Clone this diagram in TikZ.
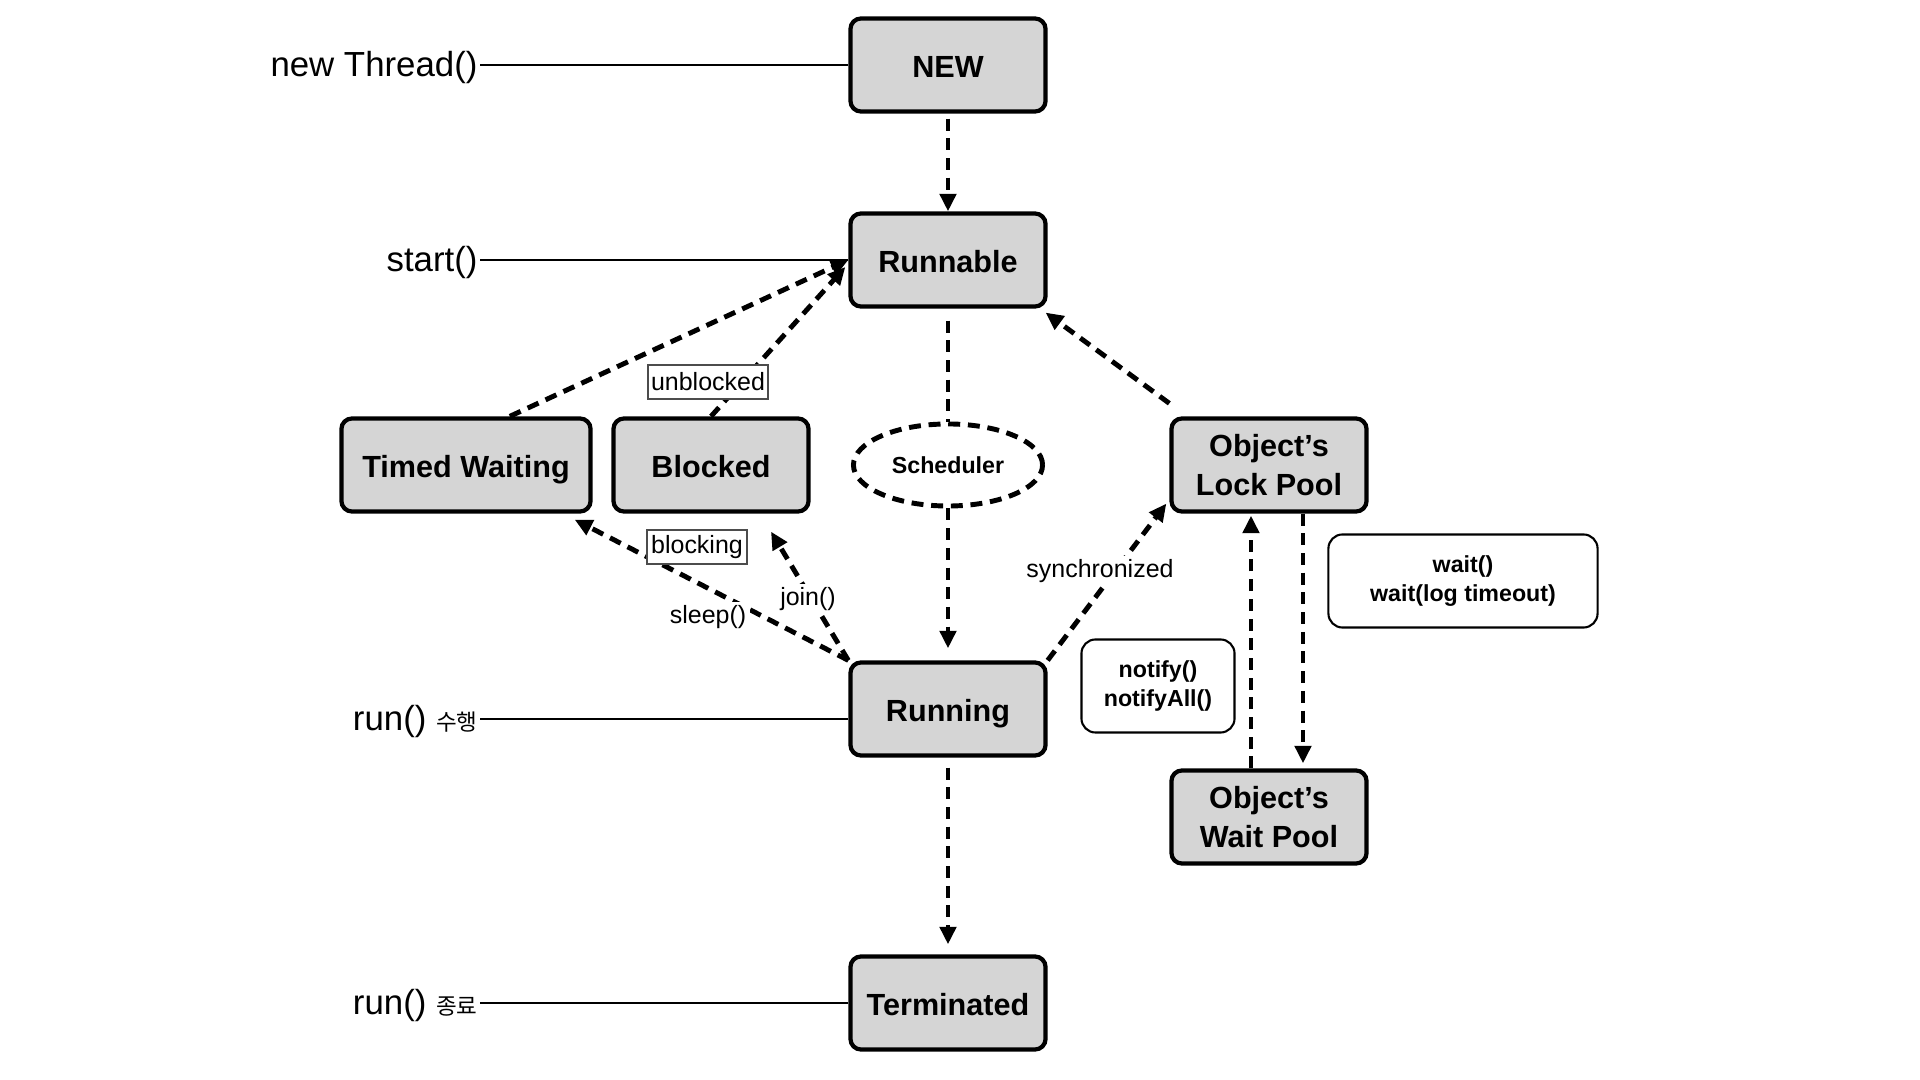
\documentclass[tikz,border=0pt]{standalone}
\usepackage{fontspec}
\setmainfont{Liberation Sans}
\newfontfamily\krfont{Noto Sans CJK KR}
\usetikzlibrary{arrows.meta,shapes.geometric,calc}
\definecolor{stategray}{HTML}{D5D5D5}

\begin{document}
\begin{tikzpicture}[x=0.01cm,y=-0.01cm,
  state/.style={draw,line width=1.2pt,rounded corners=3pt,fill=stategray,
    minimum width=1.95cm,minimum height=0.93cm,align=center,inner sep=0pt,
    font=\fontsize{8.7}{11}\selectfont\bfseries},
  oneline/.style={text height=0.72em,text depth=0pt},
  call/.style={anchor=base east,inner sep=0.5pt,font=\fontsize{9.9}{12}\selectfont},
  callline/.style={line width=0.6pt},
  flowline/.style={line width=1.4pt,dash pattern=on 3.4pt off 2.2pt},
  flow/.style={flowline,-{Triangle[length=5pt,width=4.6pt]}},
  sched/.style={ellipse,draw,flowline,minimum width=1.89cm,minimum height=0.82cm,
    inner sep=0pt,font=\fontsize{6.6}{8}\selectfont\bfseries},
  tag/.style={draw=black!70,line width=0.4pt,fill=white,inner sep=0pt,
    minimum height=0.34cm,font=\fontsize{7.1}{8}\selectfont},
  lbl/.style={fill=white,inner sep=1pt,font=\fontsize{7.1}{8}\selectfont},
  memo/.style={draw,line width=0.6pt,rounded corners=4pt,fill=white,align=center,
    minimum height=0.93cm,inner sep=0pt,font=\fontsize{6.6}{8.3}\selectfont\bfseries}]
\useasboundingbox (0,0) rectangle (1920,1080);

\node[state,oneline] (new) at (948,65) {NEW};
\node[state,oneline] (runnable) at (948,260) {Runnable};
\node[state,oneline,minimum width=2.49cm] (timed) at (466,465) {Timed Waiting};
\node[state,oneline] (blocked) at (711,465) {Blocked};
\node[sched] (scheduler) at (948,465) {Scheduler};
\node[state] (lock) at (1269,465) {Object’s\\Lock Pool};
\node[state,oneline] (running) at (948,709) {Running};
\node[state] (waitpool) at (1269,817) {Object’s\\Wait Pool};
\node[state,oneline] (term) at (948,1003) {Terminated};

\node[memo,minimum width=1.53cm] (notifybox) at (1158,686) {notify()\\notifyAll()};
\node[memo,minimum width=2.69cm] (waitbox) at (1463,581) {wait()\\wait(log timeout)};

\node[call] (cnew) at (480,77) {new Thread()};
\node[call] (cstart) at (480,272) {start()};
\node[call] (crun) at (480,731) {run() {\krfont\fontsize{6.4}{7}\selectfont 수행}};
\node[call] (cend) at (480,1015) {run() {\krfont\fontsize{6.4}{7}\selectfont 종료}};

\draw[callline] ($(cnew.base east)+(0,-12)$) -- (new.west);
\draw[callline] ($(cstart.base east)+(0,-12)$) -- (runnable.west);
\draw[callline] ($(crun.base east)+(0,-12)$) coordinate (r0) -- (r0 -| running.west);
\draw[callline] ($(cend.base east)+(0,-12)$) -- (term.west);

\draw[flow] ($(new.south)+(0,5)$) -- (runnable.north);
\draw[flowline] ($(runnable.south)+(0,12)$) -- (scheduler.north);
\draw[flow] (scheduler.south) -- ($(running.north)+(0,-12)$);
\draw[flow] ($(running.south)+(0,10)$) -- ($(term.north)+(0,-10)$);
\draw[flow] (timed.48) -- (runnable.west);
\draw[flow] (blocked.north) -- ($(runnable.west)+(-3,7)$);
\draw[flow] ($(lock.north west)+(0,-13)$) -- ($(runnable.south east)+(-2,4)$);
\draw[flow] (running.north west) -- ($(timed.south east)+(-18,6)$);
\draw[flow] (running.north west) -- ($(blocked.south)+(60,18)$);
\draw[flow] (running.north east) -- ($(lock.south west)+(-3,-10)$);
\draw[flow] ($(waitpool.north)+(-18,0)$) -- ($(lock.south)+(-18,2)$);
\draw[flow] ($(lock.south)+(34,0)$) -- ($(waitpool.north)+(34,-5)$);

\node[tag,minimum width=1.2cm] (tunblock) at (708,382) {unblocked};
\node[tag,minimum width=1.0cm] (tblock) at (697,547) {blocking};
\node[lbl] (lsleep) at (708,617) {sleep()};
\node[lbl] (ljoin) at (808,599) {join()};
\node[lbl] (lsync) at (1100,571) {synchronized};
\end{tikzpicture}
\end{document}
